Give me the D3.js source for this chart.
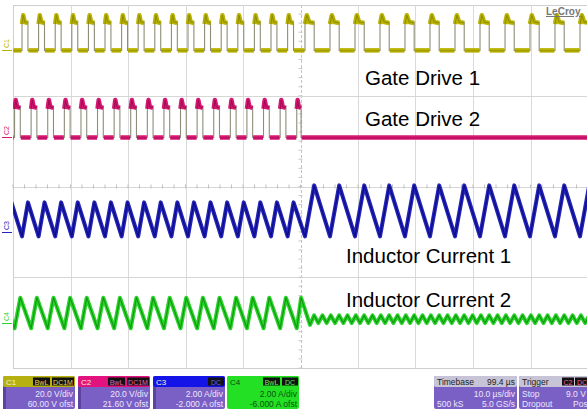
<!DOCTYPE html>
<html><head><meta charset="utf-8">
<script src="https://cdn.jsdelivr.net/npm/d3@7"></script>
<style>
body{margin:0;background:#fff}
svg{display:block}
text{font-family:"Liberation Sans",Arial,Helvetica,sans-serif}
</style>
</head><body>
<svg id="chart" width="587" height="411"></svg>
<script>
// ---------------- DATA ----------------
const channels      = ["C1", "C2", "C3", "C4"];
const unitsPerDiv   = [20, 20, 2, 2];          // V/div, V/div, A/div, A/div
const offsets       = [60, 21.6, -2, -6];      // channel offsets
const traceLabels   = ["Gate Drive 1", "Gate Drive 2", "Inductor Current 1", "Inductor Current 2"];
const timeDomainUs  = [0, 100];                // 10 us/div x 10 div
const voltDivDomain = [-4, 4];                 // 8 vertical divisions

// Gate drive 1 (C1) switching edges, microseconds
const gd1On  = [1.57, 4.45, 7.34, 10.23, 13.12, 16.00, 18.89, 21.77, 24.66, 27.55, 30.43, 33.32, 36.21, 39.10, 41.98, 44.87, 47.76,
                50.78, 55.13, 59.48, 63.83, 68.17, 72.52, 76.87, 81.22, 85.57, 89.91, 94.26, 98.61];
const gd1Off = [2.60, 5.48, 8.37, 11.26, 14.15, 17.03, 19.92, 22.80, 25.69, 28.58, 31.46, 34.35, 37.24, 40.13, 43.01, 45.90, 48.79,
                52.38, 56.73, 61.08, 65.43, 69.77, 74.12, 78.47, 82.82, 87.17, 91.51, 95.86, 100.21];
const gd1Levels = [0, 12.5, 15.5];             // low, plateau, overshoot (V)

// Gate drive 2 (C2) switching edges, microseconds (stops after ~50 us)
const gd2On  = [0.27, 3.15, 6.04, 8.93, 11.82, 14.70, 17.59, 20.47, 23.36, 26.25, 29.13, 32.02, 34.91, 37.80, 40.68, 43.57, 46.46, 49.35];
const gd2Off = [1.27, 4.15, 7.04, 9.93, 12.82, 15.70, 18.59, 21.47, 24.36, 27.25, 30.13, 33.02, 35.91, 38.80, 41.68, 44.57, 47.46, 50.10];
const gd2Levels = [0, 13.5, 16.5];             // low, plateau, overshoot (V)

// Inductor current 1 (C3): [valley, peak] before / after the 50 us change
const il1Before = [-0.2, 1.3];
const il1After  = [-0.2, 2.05];
const il1PrevPeakUs = -0.27;
const changeUs = 50;

// Inductor current 2 (C4)
const il2Levels = [-0.25, 1.1];                // valley, peak while phase 2 switches
const il2PrevPeakUs = -1.62;
const il2DropUs = 51.65, il2DropLevel = -0.1;
const il2RippleValleys = [53.10, 54.55, 56.00, 57.45, 58.90, 60.35, 61.80, 63.25, 64.70, 66.15, 67.60, 69.05, 70.50, 71.95,
                          73.40, 74.85, 76.30, 77.75, 79.20, 80.65, 82.10, 83.55, 85.00, 86.45, 87.90, 89.35, 90.80, 92.25,
                          93.70, 95.15, 96.60, 98.05, 99.50];
const il2RipplePeaks   = [52.37, 53.82, 55.27, 56.72, 58.17, 59.62, 61.07, 62.52, 63.97, 65.42, 66.87, 68.32, 69.77, 71.22,
                          72.67, 74.12, 75.57, 77.02, 78.47, 79.92, 81.37, 82.82, 84.27, 85.72, 87.17, 88.62, 90.07, 91.52,
                          92.97, 94.42, 95.87, 97.32, 98.77, 100.22];
const il2RippleLevels  = [-0.02, 0.32];

// Bottom descriptor boxes
const chanDiv  = ["20.0 V/div", "20.0 V/div", "2.00 A/div", "2.00 A/div"];
const chanOfst = ["60.00 V ofst", "21.60 V ofst", "-2.000 A ofst", "-6.000 A ofst"];
const timebaseTexts = ["Timebase", "99.4 µs", "10.0 µs/div", "500 kS", "5.0 GS/s"];
const triggerTexts  = ["Trigger", "Stop", "9.0 V", "Dropout", "Pos"];

// ---------------- STYLE ----------------
const colors = ["#b8b300", "#d61873", "#2424b8", "#2ad42a"];
const cores  = ["#8f8a00", "#a00a50", "#0c0c88", "#129a12"];

const svg = d3.select("#chart");
const plot = {l: 13, t: 5, r: 588, b: 368};

const x = d3.scaleLinear().domain(timeDomainUs).range([plot.l, plot.r]);
const yDiv = d3.scaleLinear().domain(voltDivDomain).range([plot.b, plot.t]);
const yCh = (ci, v) => yDiv((v + offsets[ci]) / unitsPerDiv[ci]);

svg.append("defs").append("clipPath").attr("id", "clip")
  .append("rect").attr("x", plot.l).attr("y", plot.t).attr("width", plot.r - plot.l).attr("height", plot.b - plot.t);

// ---------------- GRID ----------------
const grid = svg.append("g");
grid.append("rect").attr("x", plot.l + 0.5).attr("y", plot.t + 0.5)
  .attr("width", plot.r - plot.l).attr("height", plot.b - plot.t)
  .attr("fill", "#fff").attr("stroke", "#cfcfcf");
d3.range(10, 100, 10).forEach(t => {
  grid.append("line").attr("x1", Math.round(x(t)) + 0.5).attr("x2", Math.round(x(t)) + 0.5)
    .attr("y1", plot.t).attr("y2", plot.b)
    .attr("stroke", t === 50 ? "#c4c4c4" : "#dadada")
    .attr("stroke-dasharray", t === 50 ? "3,2" : null);
});
[-2, 0, 2].forEach(d => {
  grid.append("line").attr("x1", plot.l).attr("x2", plot.r)
    .attr("y1", Math.round(yDiv(d)) + 0.5).attr("y2", Math.round(yDiv(d)) + 0.5)
    .attr("stroke", "#d6d6d6");
});
d3.range(0, 100, 2).forEach(t => {
  grid.append("line").attr("x1", x(t)).attr("x2", x(t))
    .attr("y1", yDiv(0) - 2).attr("y2", yDiv(0) + 2).attr("stroke", "#c0c0c0");
});
d3.range(-4, 4, 0.2).forEach(d => {
  grid.append("line").attr("x1", x(50) - 2).attr("x2", x(50) + 2)
    .attr("y1", yDiv(d)).attr("y2", yDiv(d)).attr("stroke", "#c8c8c8");
});

// ---------------- TRACES ----------------
const traces = svg.append("g").attr("clip-path", "url(#clip)");
const line = d3.line().x(d => x(d[0])).y(d => d[1]);

function drawGate(ci, on, off, levels) {
  const [lo, hi, pk] = levels.map(v => yCh(ci, v));
  const g = traces.append("g");
  const pts = [[timeDomainUs[0], lo]];
  on.forEach((t, i) => {
    pts.push([t, lo], [t, hi], [off[i], hi], [off[i], lo]);
  });
  pts.push([timeDomainUs[1], lo]);
  g.append("path").attr("d", line(pts)).attr("fill", "none")
    .attr("stroke", "#8d8d78").attr("stroke-width", 1.1);
  const lows = [[timeDomainUs[0], on[0]]];
  on.forEach((t, i) => lows.push([off[i], i + 1 < on.length ? on[i + 1] : timeDomainUs[1]]));
  lows.forEach(s => {
    g.append("line").attr("x1", x(s[0]) + 0.5).attr("x2", x(s[1]) - 0.5).attr("y1", lo).attr("y2", lo)
      .attr("stroke", colors[ci]).attr("stroke-width", 4.5);
    g.append("line").attr("x1", x(s[0]) + 0.5).attr("x2", x(s[1]) - 0.5).attr("y1", lo + 0.5).attr("y2", lo + 0.5)
      .attr("stroke", cores[ci]).attr("stroke-width", 1).attr("opacity", 0.7);
  });
  on.forEach((t, i) => {
    const dur = off[i] - t;
    const p = [[t, hi + 2], [t + dur * 0.2, pk], [t + dur * 0.45, hi], [off[i], hi + 1]];
    g.append("path").attr("d", line(p)).attr("fill", "none")
      .attr("stroke", colors[ci]).attr("stroke-width", 4.5).attr("stroke-linejoin", "round");
    g.append("path").attr("d", line(p)).attr("fill", "none")
      .attr("stroke", cores[ci]).attr("stroke-width", 1);
  });
}

function drawAnalog(ci, pts) {
  const p = pts.map(d => [d[0], yCh(ci, d[1])]);
  traces.append("path").attr("d", line(p)).attr("fill", "none")
    .attr("stroke", colors[ci]).attr("stroke-width", 4).attr("stroke-linejoin", "round");
  traces.append("path").attr("d", line(p)).attr("fill", "none")
    .attr("stroke", cores[ci]).attr("stroke-width", 1.2).attr("stroke-linejoin", "round");
}

drawGate(0, gd1On, gd1Off, gd1Levels);
drawGate(1, gd2On, gd2Off, gd2Levels);

const il1Pts = [[il1PrevPeakUs, il1Before[1]]];
gd1On.forEach((t, i) => {
  const lv = t < changeUs ? il1Before : il1After;
  il1Pts.push([t, lv[0]], [gd1Off[i], lv[1]]);
});
drawAnalog(2, il1Pts);

const il2Pts = [[il2PrevPeakUs, il2Levels[1]]];
gd2On.forEach((t, i) => il2Pts.push([t, il2Levels[0]], [gd2Off[i], il2Levels[1]]));
il2Pts.push([il2DropUs, il2DropLevel]);
il2RipplePeaks.forEach((t, i) => {
  il2Pts.push([t, il2RippleLevels[1]]);
  if (i < il2RippleValleys.length) il2Pts.push([il2RippleValleys[i], il2RippleLevels[0]]);
});
drawAnalog(3, il2Pts);

// ---------------- CHANNEL MARKERS ----------------
channels.forEach((c, ci) => {
  const y0 = Math.round(yCh(ci, 0));
  svg.append("line").attr("x1", 2).attr("x2", 12).attr("y1", y0 + 0.5).attr("y2", y0 + 0.5)
    .attr("stroke", colors[ci]).attr("stroke-width", 1);
  svg.append("text").attr("transform", `translate(9,${y0 - 2}) rotate(-90)`)
    .attr("font-size", 7).attr("fill", colors[ci]).text(c);
});

// ---------------- LABELS ----------------
const labelX = [365, 365, 346, 346];
const labelY = [85, 126, 263, 307];
traceLabels.forEach((t, i) => {
  svg.append("text").attr("x", labelX[i]).attr("y", labelY[i])
    .attr("font-size", 20.5).attr("fill", "#000").text(t);
});

svg.append("text").attr("x", 546).attr("y", 15).attr("font-size", 10).attr("font-weight", "bold")
  .attr("fill", "#777").attr("text-decoration", "underline").text("LeCroy");

// ---------------- BOTTOM PANEL ----------------
const panel = svg.append("g").attr("font-size", 8.5);
const bodyCol = "#7a60c4", bodyText = "#ece6ff";
const boxX = [3, 78, 153, 227], boxW = 72, boxY = 376, boxH = 33, headH = 11;
const headCols = ["#b6b010", "#e2127e", "#1414e8", "#24e024"];

function tag(g, x0, y0, w, label, fill) {
  g.append("rect").attr("x", x0).attr("y", y0 + 1.5).attr("width", w).attr("height", headH - 3).attr("fill", "#111");
  g.append("text").attr("x", x0 + w / 2).attr("y", y0 + 8.5).attr("text-anchor", "middle")
    .attr("font-size", 7).attr("fill", fill).text(label);
}

channels.forEach((c, ci) => {
  const g = panel.append("g");
  const x0 = boxX[ci];
  const isC4 = ci === 3;
  g.append("rect").attr("x", x0).attr("y", boxY).attr("width", boxW).attr("height", boxH)
    .attr("rx", 2).attr("fill", isC4 ? headCols[3] : bodyCol);
  if (!isC4) {
    g.append("rect").attr("x", x0).attr("y", boxY + headH).attr("width", 3).attr("height", boxH - headH).attr("fill", "#5a44a0");
  }
  g.append("rect").attr("x", x0).attr("y", boxY).attr("width", boxW).attr("height", headH).attr("rx", 2).attr("fill", headCols[ci]);
  g.append("text").attr("x", x0 + 3).attr("y", boxY + 8.5).attr("font-size", 8)
    .attr("fill", isC4 ? "#0a4a0a" : "#f4f4d0").text(c);
  if (ci === 0 || ci === 1) {
    tag(g, x0 + 30, boxY, 17, "BwL", ci === 0 ? "#e0dc60" : "#f060a0");
    tag(g, x0 + 49, boxY, 22, "DC1M", ci === 0 ? "#e0dc60" : "#f060a0");
  } else if (ci === 2) {
    tag(g, x0 + 55, boxY, 16, "DC", "#6060ff");
  } else {
    tag(g, x0 + 36, boxY, 17, "BwL", "#60f060");
    tag(g, x0 + 55, boxY, 16, "DC", "#60f060");
  }
  const tc = isC4 ? "#0b550b" : bodyText;
  g.append("text").attr("x", x0 + boxW - 2).attr("y", boxY + 21).attr("text-anchor", "end").attr("fill", tc).text(chanDiv[ci]);
  g.append("text").attr("x", x0 + boxW - 2).attr("y", boxY + 31).attr("text-anchor", "end").attr("fill", tc).text(chanOfst[ci]);
});

(function () {
  const g = panel.append("g"), x0 = 434, w = 83;
  g.append("rect").attr("x", x0).attr("y", boxY).attr("width", w).attr("height", boxH).attr("rx", 2).attr("fill", bodyCol);
  g.append("rect").attr("x", x0).attr("y", boxY).attr("width", w).attr("height", headH).attr("rx", 2).attr("fill", "#c6c4d6");
  g.append("text").attr("x", x0 + 3).attr("y", boxY + 8.5).attr("fill", "#222").text(timebaseTexts[0]);
  g.append("text").attr("x", x0 + w - 2).attr("y", boxY + 8.5).attr("text-anchor", "end").attr("fill", "#222").text(timebaseTexts[1]);
  g.append("text").attr("x", x0 + w - 2).attr("y", boxY + 21).attr("text-anchor", "end").attr("fill", bodyText).text(timebaseTexts[2]);
  g.append("text").attr("x", x0 + 3).attr("y", boxY + 31).attr("fill", bodyText).text(timebaseTexts[3]);
  g.append("text").attr("x", x0 + w - 2).attr("y", boxY + 31).attr("text-anchor", "end").attr("fill", bodyText).text(timebaseTexts[4]);
})();

(function () {
  const g = panel.append("g"), x0 = 519, w = 75;
  g.append("rect").attr("x", x0).attr("y", boxY).attr("width", w).attr("height", boxH).attr("rx", 2).attr("fill", bodyCol);
  g.append("rect").attr("x", x0).attr("y", boxY).attr("width", w).attr("height", headH).attr("rx", 2).attr("fill", "#c6c4d6");
  g.append("text").attr("x", x0 + 3).attr("y", boxY + 8.5).attr("fill", "#222").text(triggerTexts[0]);
  tag(g, x0 + 43, boxY, 12, "C2", "#f060a0");
  tag(g, x0 + 56, boxY, 14, "DC", "#f060a0");
  g.append("text").attr("x", x0 + 3).attr("y", boxY + 21).attr("fill", bodyText).text(triggerTexts[1]);
  g.append("text").attr("x", x0 + 47).attr("y", boxY + 21).attr("fill", bodyText).text(triggerTexts[2]);
  g.append("text").attr("x", x0 + 3).attr("y", boxY + 31).attr("fill", bodyText).text(triggerTexts[3]);
  g.append("text").attr("x", x0 + 54).attr("y", boxY + 31).attr("fill", bodyText).text(triggerTexts[4]);
})();
</script>
</body></html>
